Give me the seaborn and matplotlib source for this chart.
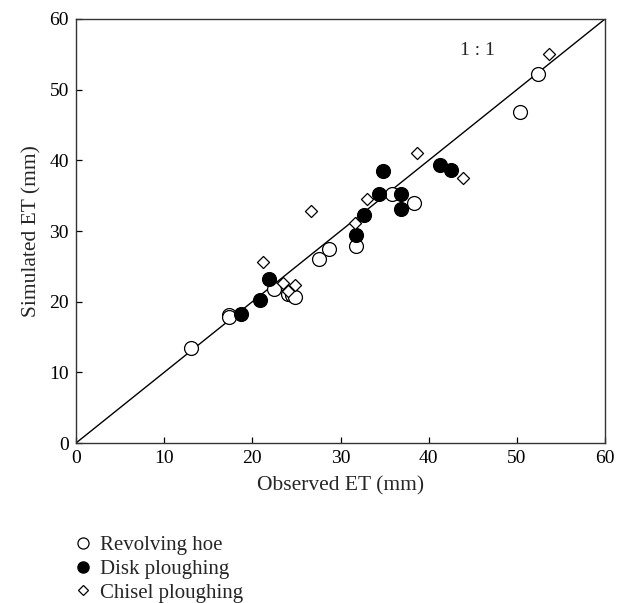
import numpy as np
import pandas as pd
import matplotlib
matplotlib.use("Agg")
import matplotlib.pyplot as plt
import seaborn as sns

### Observed vs simulated ET (mm)
hoe_obs = [13.0, 17.3, 17.3, 22.5, 24.1, 24.5, 24.8, 27.6, 28.7, 31.8, 35.8, 38.3, 50.4, 52.4]
hoe_sim = [13.4, 18.1, 17.8, 21.8, 21.1, 20.9, 20.6, 26.1, 27.5, 27.9, 35.3, 34.0, 46.9, 52.2]

disk_obs = [18.7, 20.9, 21.9, 31.8, 32.7, 34.4, 34.8, 36.9, 36.9, 41.3, 42.5]
disk_sim = [18.3, 20.2, 23.2, 29.5, 32.3, 35.3, 38.5, 35.3, 33.1, 39.4, 38.6]

chisel_obs = [21.2, 23.5, 24.0, 24.8, 26.7, 31.6, 33.0, 38.7, 43.9, 53.7]
chisel_sim = [25.6, 22.6, 21.5, 22.4, 32.8, 31.1, 34.5, 41.1, 37.5, 55.0]

labels = ["Revolving hoe", "Disk ploughing", "Chisel ploughing"]

df = pd.concat([
    pd.DataFrame({"obs": hoe_obs, "sim": hoe_sim, "treat": labels[0]}),
    pd.DataFrame({"obs": disk_obs, "sim": disk_sim, "treat": labels[1]}),
    pd.DataFrame({"obs": chisel_obs, "sim": chisel_sim, "treat": labels[2]}),
], ignore_index=True)

sns.set_style("ticks")
plt.rcParams["font.family"] = ["Liberation Serif", "DejaVu Serif"]

fig = plt.figure(figsize=(6.26, 6.03), dpi=100)
ax = fig.add_axes([0.1214, 0.2653, 0.8451, 0.7032])

# 1:1 line
ax.plot([0, 60], [0, 60], color="black", linewidth=1.0, zorder=1)

styles = {
    labels[0]: dict(marker="o", s=100, facecolor="white"),
    labels[1]: dict(marker="o", s=100, facecolor="black"),
    labels[2]: dict(marker="D", s=38, facecolor="white"),
}
for lab in labels:
    sub = df[df["treat"] == lab]
    st = styles[lab]
    sns.scatterplot(data=sub, x="obs", y="sim", ax=ax, marker=st["marker"], s=st["s"],
                    color=st["facecolor"], edgecolor="black", linewidth=0.9,
                    zorder=3, legend=False)

ax.text(45.5, 55.6, "1 : 1", fontsize=14, ha="center", va="center")

ax.set_xlim(0, 60)
ax.set_ylim(0, 60)
ax.set_xticks(np.arange(0, 61, 10))
ax.set_yticks(np.arange(0, 61, 10))
ax.tick_params(direction="in", length=4, width=0.9, labelsize=14, colors="black", pad=5)
for sp in ax.spines.values():
    sp.set_linewidth(1.0)
    sp.set_color("#333333")
ax.set_xlabel("Observed ET (mm)", fontsize=15.5, labelpad=7)
ax.set_ylabel("Simulated ET (mm)", fontsize=15.5, labelpad=6)

# legend below the plot
handles = [
    plt.Line2D([], [], marker="o", linestyle="none", markersize=8, markerfacecolor="white",
               markeredgecolor="black", markeredgewidth=0.9),
    plt.Line2D([], [], marker="o", linestyle="none", markersize=8, markerfacecolor="black",
               markeredgecolor="black"),
    plt.Line2D([], [], marker="D", linestyle="none", markersize=5.5, markerfacecolor="white",
               markeredgecolor="black", markeredgewidth=0.9),
]
fig.legend(handles, labels, loc="upper left", bbox_to_anchor=(0.116, 0.112),
           frameon=False, fontsize=15, handletextpad=0.3, labelspacing=0.2,
           handlelength=1.0, borderpad=0, borderaxespad=0)

fig.savefig("out.png", dpi=100)
